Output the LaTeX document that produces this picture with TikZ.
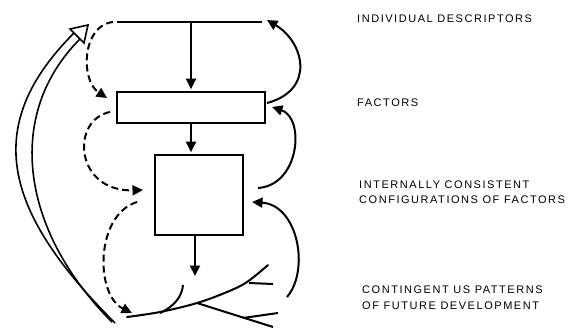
\documentclass[tikz,border=0pt]{standalone}
\usepackage{fontspec}
\setmainfont{Liberation Sans}[LetterSpace=14]
\usetikzlibrary{arrows.meta}
\begin{document}
\begin{tikzpicture}[x=1pt,y=-1pt,
  lw/.style={line width=2pt},
  tip/.style={-{Triangle[length=10.5pt,width=10pt]}},
  box/.style={draw, line width=2.6pt, inner sep=0pt},
  feedback/.style={lw, tip},
  loopback/.style={lw, tip, dash pattern=on 7pt off 4pt},
  hollow/.style={line width=1.6pt},
  label/.style={anchor=base west, inner sep=0pt, font=\fontsize{11}{13}\selectfont}]
\useasboundingbox (0,0) rectangle (578,330);

% level 1: individual descriptors (a bar)
\coordinate (dL) at (117,22);
\coordinate (dR) at (262,22);
\coordinate (dM) at (191,22);
\draw[lw] (dL) -- (dR);

% level 2 and 3: boxes
\node[box, minimum width=148pt, minimum height=31pt] (factors) at (191,107.5) {};
\node[box, minimum width=88pt, minimum height=80pt] (configs) at (199,195) {};

% level 4: branching tree of patterns
\coordinate (root) at (127,317);
\coordinate (fork) at (197,303);
\coordinate (treeTop) at (195,276);
\draw[lw, line cap=round] plot[smooth, tension=0.6] coordinates
  {(root) (160,312) (fork) (227,292) (247,282) (268,265)};
\draw[lw] (160,313) .. controls (175,306) and (182,296) .. (183,285);
\draw[lw] (249,283) -- (273,284);
\draw[lw] (fork) -- (273,327);
\draw[lw] (243,318) -- (278,313);

% downward flow
\draw[lw, tip, shorten >=1.5pt] (dM) -- (factors.north);
\draw[lw, tip, shorten >=1.5pt] (factors.south) -- (factors.south |- configs.north);
\draw[lw, tip] (configs.south -| treeTop) -- (treeTop);

% solid feedback arcs on the right
\coordinate (r1s) at (267,103);
\coordinate (r1e) at (267,20);
\coordinate (r2s) at (258,188);
\coordinate (r2e) at (272,107);
\coordinate (r3s) at (287,297);
\coordinate (r3e) at (252,202);
\draw[feedback] (r1s) .. controls (316,90) and (304,42) .. (r1e);
\draw[feedback] (r2s) .. controls (300,185) and (305,118) .. (r2e);
\draw[feedback] (r3s) .. controls (310,270) and (298,205) .. (r3e);

% dashed arcs on the left
\coordinate (l1s) at (113,22);
\coordinate (l1e) at (107,98);
\coordinate (l2s) at (110,112);
\coordinate (l2e) at (143,190);
\coordinate (l3s) at (137,202);
\coordinate (l3e) at (132,313);
\draw[loopback] (l1s) .. controls (82,25) and (80,80) .. (l1e);
\draw[loopback] (l2s) .. controls (70,120) and (75,192) .. (l2e);
\draw[loopback] (l3s) .. controls (95,215) and (95,295) .. (l3e);

% double-stroked return arrow with open head
\coordinate (hTip) at (88,25);
\coordinate (hBase) at (115,323);
\draw[hollow] (74,33) .. controls (-21,128) and (6,214) .. (hBase);
\draw[hollow] (80,39) .. controls (4,115) and (21,231) .. (112,322);
\draw[hollow, fill=white, line join=miter] (hTip) -- (70,29) -- (84,43) -- cycle;

% labels
\node[label] (t1) at (357,22) {INDIVIDUAL DESCRIPTORS};
\node[label] (t2) at (357,106) {FACTORS};
\node[label] (t3a) at (359,188) {INTERNALLY CONSISTENT};
\node[label] (t3b) at (359,203) {CONFIGURATIONS OF FACTORS};
\node[label] (t4a) at (362,293) {CONTINGENT US PATTERNS};
\node[label] (t4b) at (362,309) {OF FUTURE DEVELOPMENT};
\end{tikzpicture}
\end{document}
